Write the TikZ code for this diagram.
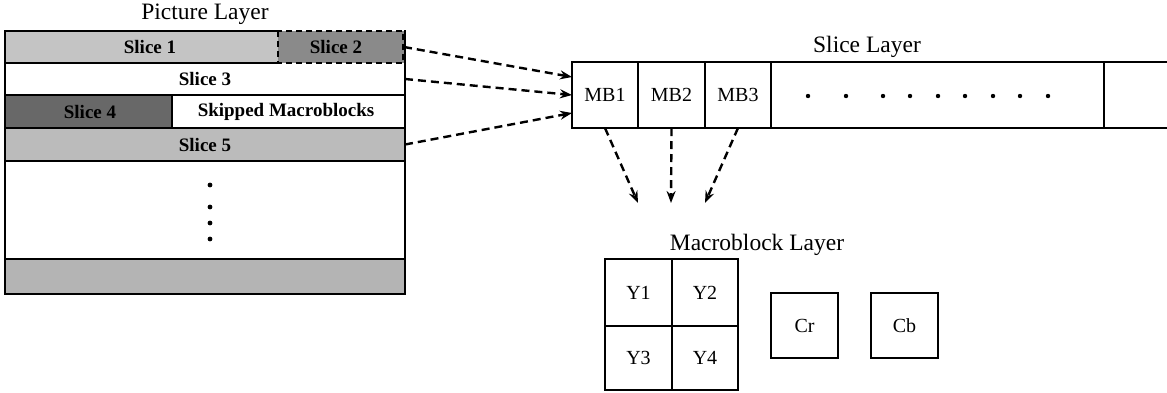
\documentclass[tikz,border=0pt]{standalone}
\usepackage{fontspec}
\setmainfont{Liberation Serif}
\usetikzlibrary{arrows.meta,calc}

\definecolor{lightgr}{HTML}{C4C4C4}
\definecolor{midgr}{HTML}{8A8A8A}
\definecolor{darkgr}{HTML}{686868}
\definecolor{s5gr}{HTML}{BBBBBB}
\definecolor{lastgr}{HTML}{B4B4B4}

\tikzset{
  cell/.style={rectangle, inner sep=0pt, outer sep=0pt, anchor=north west},
  slicetext/.style={font=\fontsize{19}{21}\selectfont\bfseries},
  boxtext/.style={font=\fontsize{20}{22}\selectfont},
  layerlabel/.style={font=\fontsize{23.5}{26}\selectfont},
  frameline/.style={line width=2.4pt},
  boxline/.style={draw, line width=2.2pt},
  flow/.style={line width=2.4pt, dash pattern=on 8pt off 5pt,
    -{Stealth[length=12pt,width=9pt,inset=4pt]}},
}

\begin{document}
\begin{tikzpicture}[x=1pt,y=-1pt]
\useasboundingbox (0,0) rectangle (1167,392);

% ---------------- Picture layer ----------------
\node[layerlabel] (plabel) at (205,14) {Picture Layer};

\node[cell, fill=lightgr, minimum width=273pt, minimum height=32pt] (s1) at (5,31) {};
\node[slicetext] at (150,47) {Slice 1};
\node[cell, fill=midgr, minimum width=126pt, minimum height=32pt] (s2) at (278,31) {};
\node[slicetext] at (336,47) {Slice 2};
\node[cell, minimum width=400pt, minimum height=32pt] (s3) at (5,63) {};
\node[slicetext] at (205,79) {Slice 3};
\node[cell, fill=darkgr, minimum width=167pt, minimum height=33pt] (s4) at (5,95) {};
\node[slicetext] at (90,111.5) {Slice 4};
\node[cell, minimum width=233pt, minimum height=33pt] (skip) at (172,95) {};
\node[slicetext] at (286,111.5) {Skipped Macroblocks};
\node[cell, fill=s5gr, minimum width=400pt, minimum height=33pt] (s5) at (5,128) {};
\node[slicetext] at (205,144.5) {Slice 5};
\node[cell, minimum width=400pt, minimum height=98pt] (rest) at (5,161) {};
\node[cell, fill=lastgr, minimum width=400pt, minimum height=35pt] (last) at (5,259) {};

% frame and row separators
\draw[frameline] (278,31) -- (5,31) -- (5,294) -- (405,294) -- (405,30);
\draw[frameline] (5,63) -- (278,63);
\draw[frameline] (5,95) -- (405,95);
\draw[frameline] (5,128) -- (405,128);
\draw[frameline] (172,95) -- (172,128);
\draw[frameline] (5,161) -- (405,161);
\draw[frameline] (5,259) -- (405,259);
\draw[line width=2.2pt, dash pattern=on 6pt off 4pt] (278,31) rectangle (403,63);

% vertical ellipsis
\foreach \yy in {185,207,223,239} \fill (210,\yy) circle (2.4pt);

% ---------------- Slice layer ----------------
\node[layerlabel] (slabel) at (867,47) {Slice Layer};

\node[cell, boxline, minimum width=66pt, minimum height=66pt] (mb1) at (572,62) {};
\node[boxtext] at (mb1.center) {MB1};
\node[cell, boxline, minimum width=67pt, minimum height=66pt] (mb2) at (638,62) {};
\node[boxtext] at (mb2.center) {MB2};
\node[cell, boxline, minimum width=66pt, minimum height=66pt] (mb3) at (705,62) {};
\node[boxtext] at (mb3.center) {MB3};
\node[cell, boxline, minimum width=333pt, minimum height=66pt] (mbdots) at (771,62) {};
\draw[line width=2.2pt] (1104,62) -- (1170,62);
\draw[line width=2.2pt] (1104,128) -- (1170,128);

\foreach \xx in {808,846,883,910,938,965,993,1020,1048} \fill (\xx,96) circle (2.2pt);

% slices feed the slice layer
\draw[flow] (s2.east) -- ($(mb1.west)+(0,-18)$);
\draw[flow] (s3.east) -- (mb1.west);
\draw[flow] (s5.east) -- ($(mb1.west)+(0,18)$);

% ---------------- Macroblock layer ----------------
\node[layerlabel] (mlabel) at (757,245) {Macroblock Layer};

\node[cell, boxline, minimum width=67pt, minimum height=67pt] (y1) at (605,259) {};
\node[boxtext] at (y1.center) {Y1};
\node[cell, boxline, minimum width=66pt, minimum height=67pt] (y2) at (672,259) {};
\node[boxtext] at (y2.center) {Y2};
\node[cell, boxline, minimum width=67pt, minimum height=64pt] (y3) at (605,326) {};
\node[boxtext] at (y3.center) {Y3};
\node[cell, boxline, minimum width=66pt, minimum height=64pt] (y4) at (672,326) {};
\node[boxtext] at (y4.center) {Y4};

\node[cell, boxline, minimum width=67pt, minimum height=65pt] (cr) at (771,293) {};
\node[boxtext] at (cr.center) {Cr};
\node[cell, boxline, minimum width=67pt, minimum height=65pt] (cb) at (871,293) {};
\node[boxtext] at (cb.center) {Cb};

% macroblocks expand into blocks
\coordinate (t1) at (638,203);
\coordinate (t2) at (671,203);
\coordinate (t3) at (705,203);
\draw[flow] (mb1.south) -- (t1);
\draw[flow] (mb2.south) -- (t2);
\draw[flow] (mb3.south) -- (t3);
\end{tikzpicture}
\end{document}
